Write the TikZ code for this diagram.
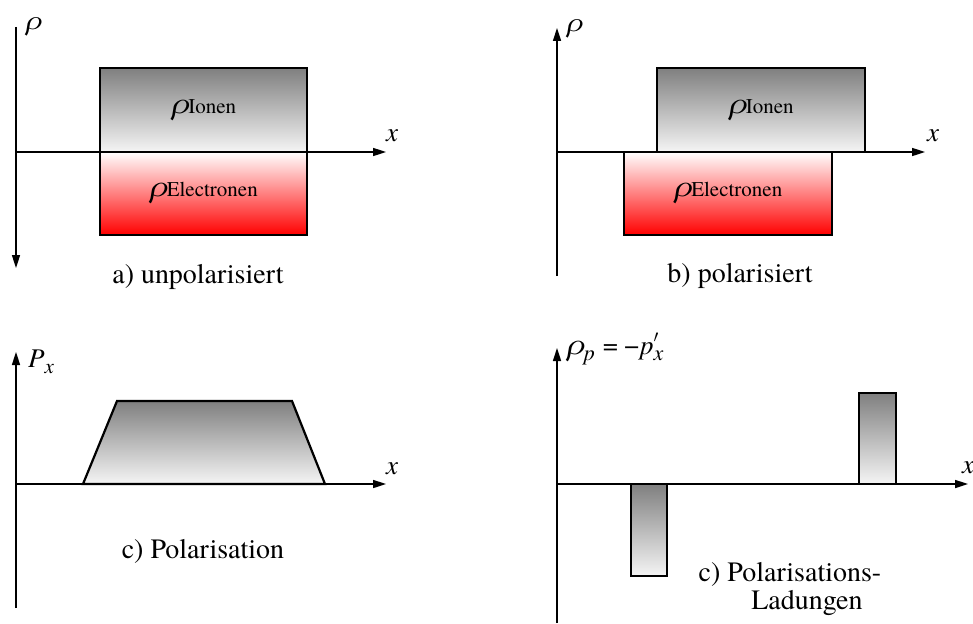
\documentclass[tikz,border=0pt]{standalone}
\usepackage{fontspec}
\setmainfont{TeX Gyre Termes}
\usetikzlibrary{arrows.meta}
\newcommand\rhoion{{\fontsize{30}{30}\selectfont\itshape ρ}{\fontsize{21}{22}\selectfont Ionen}}
\newcommand\rhoel{{\fontsize{30}{30}\selectfont\itshape ρ}{\fontsize{21}{22}\selectfont Electronen}}
\begin{document}
\begin{tikzpicture}[x=1pt,y=-1pt,
  axis/.style={line width=1.6pt},
  axarrow/.style={axis,-{Triangle[length=13pt,width=8pt]}},
  boxbase/.style={draw,line width=2.2pt,inner sep=0pt,anchor=center},
  graybox/.style={boxbase,top color=black!50,bottom color=black!4},
  redbox/.style={boxbase,top color=white,bottom color=red},
  lbl/.style={inner sep=0pt,font=\fontsize{28}{32}\selectfont},
  axlbl/.style={inner sep=0pt,anchor=base west,font=\fontsize{27}{31}\selectfont\itshape}]
\useasboundingbox (0,0) rectangle (973,623);

% ---------- a) ----------
\coordinate (aT) at (16,27);
\coordinate (aB) at (16,268);
\coordinate (aO) at (16,152);
\coordinate (aX) at (386,152);
\draw[axarrow] (aT) -- (aB);
\draw[axarrow] (aO) -- (aX);
\node[graybox,minimum width=207pt,minimum height=84pt] (aIon) at (203.5,110) {\rhoion};
\node[redbox,minimum width=207pt,minimum height=83pt] (aEl) at (203.5,193.5) {\rhoel};
\node[axlbl] (aRho) at (25,30) {ρ};
\node[axlbl] (aXl) at (386,141) {x};
\node[lbl,anchor=base] (aCap) at (198,283) {a) unpolarisiert};

% ---------- b) ----------
\coordinate (bT) at (557,28);
\coordinate (bB) at (557,276);
\coordinate (bO) at (557,152);
\coordinate (bX) at (925,152);
\draw[axarrow] (bB) -- (bT);
\draw[axarrow] (bO) -- (bX);
\node[graybox,minimum width=208pt,minimum height=84pt] (bIon) at (761,110) {\rhoion};
\node[redbox,minimum width=208pt,minimum height=83pt] (bEl) at (728,193.5) {\rhoel};
\node[axlbl] (bRho) at (566,32) {ρ};
\node[axlbl] (bXl) at (927,141) {x};
\node[lbl,anchor=base] (bCap) at (740,282) {b) polarisiert};

% ---------- c) Polarisation ----------
\coordinate (cT) at (16,352);
\coordinate (cB) at (16,608);
\coordinate (cO) at (16,484);
\coordinate (cX) at (386,484);
\draw[axarrow] (cB) -- (cT);
\draw[axarrow] (cO) -- (cX);
\coordinate (t1) at (83,484);
\coordinate (t2) at (117,401);
\coordinate (t3) at (292,401);
\coordinate (t4) at (325,484);
\draw[line width=2.2pt,line join=miter,top color=black!50,bottom color=black!4] (t1) -- (t2) -- (t3) -- (t4) -- cycle;
\node[axlbl] (cP) at (28,367) {P\raisebox{-6pt}{\fontsize{21}{22}\selectfont x}};
\node[axlbl] (cXl) at (386,474) {x};
\node[lbl,anchor=base] (cCap) at (203,558) {c) Polarisation};

% ---------- d) Polarisationsladungen ----------
\coordinate (dT) at (557,348);
\coordinate (dB) at (557,623);
\coordinate (dO) at (557,484);
\coordinate (dX) at (968,484);
\draw[axarrow] (dB) -- (dT);
\draw[axarrow] (dO) -- (dX);
\node[graybox,minimum width=36pt,minimum height=92pt] (dNeg) at (649,530) {};
\node[graybox,minimum width=37pt,minimum height=91pt] (dPos) at (877.5,438.5) {};
\node[axlbl] (dRho) at (566,354) {{\fontsize{30}{31}\selectfont ρ}\raisebox{-6pt}{\fontsize{22}{22}\selectfont p}\upshape\hspace{8pt}=\hspace{6pt}−\hspace{1pt}\itshape p\rlap{\raisebox{2pt}{$^{\prime}$}}\raisebox{-6pt}{\fontsize{22}{22}\selectfont x}};
\node[axlbl] (dXl) at (962,473) {x};
\node[lbl,anchor=base] (dCap1) at (790,581) {c) Polarisations-};
\node[lbl,anchor=base] (dCap2) at (807,609) {Ladungen};
\end{tikzpicture}
\end{document}
